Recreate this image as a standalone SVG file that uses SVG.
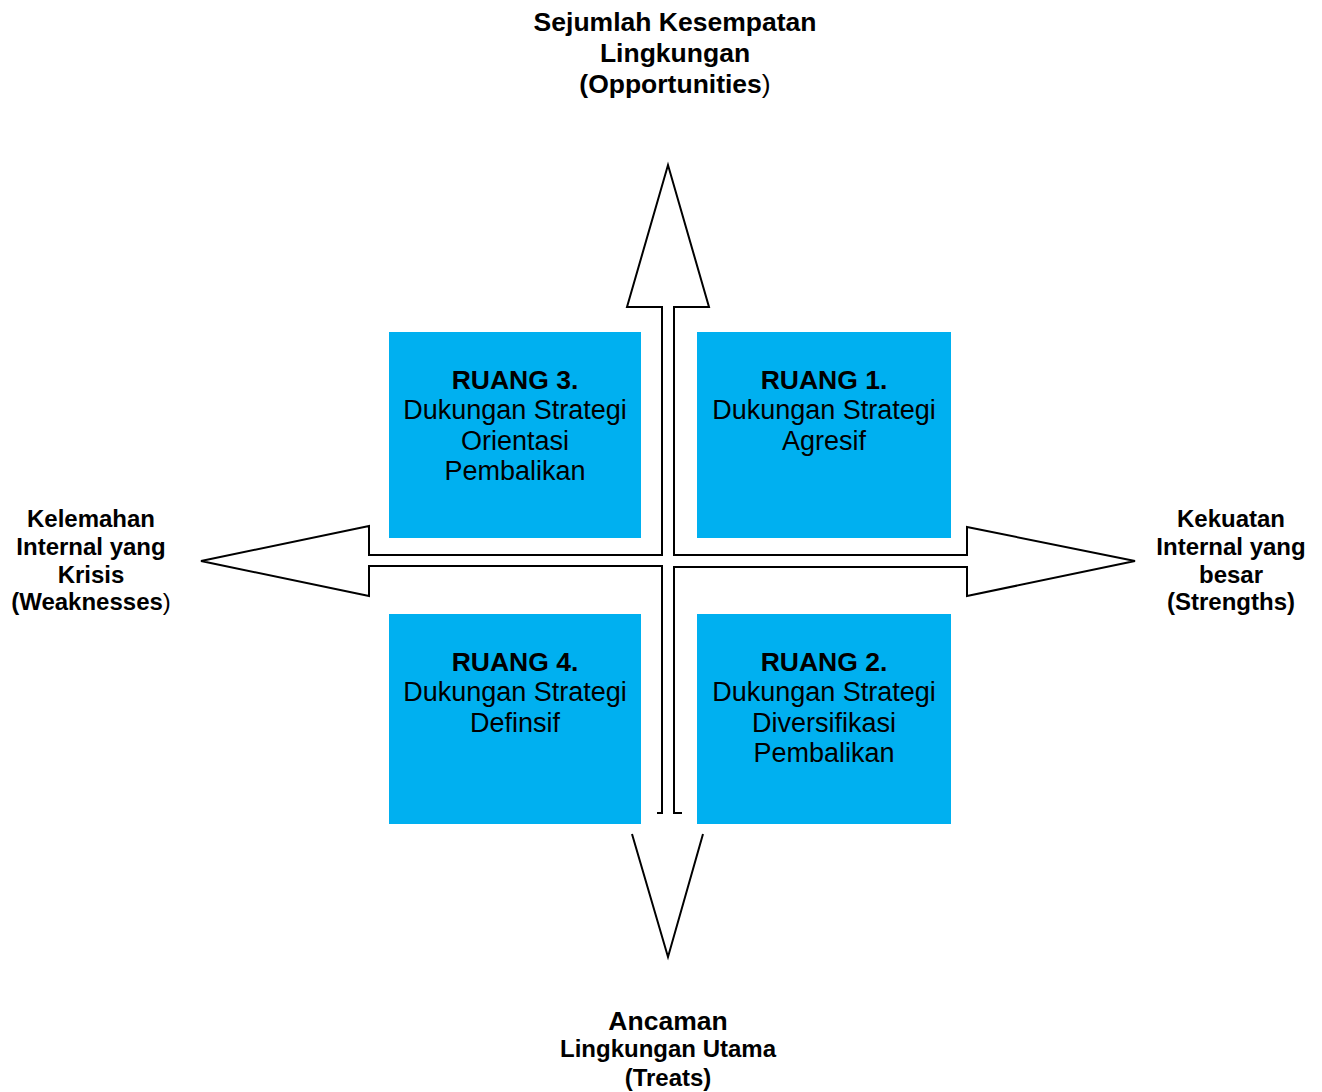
<svg xmlns="http://www.w3.org/2000/svg" width="1322" height="1092" viewBox="0 0 1322 1092">
<style>
.box{fill:#00B0F0;}
.t{font-family:"Liberation Sans",Arial,sans-serif;fill:#000;text-anchor:middle;}
.bt{font-size:27px;}
.b{font-weight:bold;font-size:26.5px;}
.lbl{font-weight:bold;font-size:24px;}
.lbl26{font-weight:bold;font-size:26.5px;}
.n{font-weight:normal;}
.ar{fill:none;stroke:#000;stroke-width:2;stroke-linejoin:miter;}
</style>
<rect width="1322" height="1092" fill="#fff"/>
<g id="connectors">
<path class="ar" d="M657,813 L662,813 L662,566 L369,566 L369,596 L201,561 L369,526 L369,555 L662,555 L662,307 L627,307 L668,165 L709,307 L674,307 L674,555 L967,555 L967,527 L1135,561 L967,596 L967,567 L674,567 L674,813 L682,813"/>
<path class="ar" d="M632,834 L668,957 L703,834"/>
</g>
<g id="ruang3">
<rect class="box" x="389" y="332" width="252" height="206"/>
<text class="t bt" x="515"><tspan class="b" x="515" y="389">RUANG 3.</tspan><tspan x="515" y="419">Dukungan Strategi</tspan><tspan x="515" y="450">Orientasi</tspan><tspan x="515" y="480">Pembalikan</tspan></text>
</g>
<g id="ruang1">
<rect class="box" x="697" y="332" width="254" height="206"/>
<text class="t bt" x="824"><tspan class="b" x="824" y="389">RUANG 1.</tspan><tspan x="824" y="419">Dukungan Strategi</tspan><tspan x="824" y="450">Agresif</tspan></text>
</g>
<g id="ruang4">
<rect class="box" x="389" y="614" width="252" height="210"/>
<text class="t bt" x="515"><tspan class="b" x="515" y="671">RUANG 4.</tspan><tspan x="515" y="701">Dukungan Strategi</tspan><tspan x="515" y="732">Definsif</tspan></text>
</g>
<g id="ruang2">
<rect class="box" x="697" y="614" width="254" height="210"/>
<text class="t bt" x="824"><tspan class="b" x="824" y="671">RUANG 2.</tspan><tspan x="824" y="701">Dukungan Strategi</tspan><tspan x="824" y="732">Diversifikasi</tspan><tspan x="824" y="762">Pembalikan</tspan></text>
</g>
<g id="opportunities">
<text class="t lbl26"><tspan x="675" y="31">Sejumlah Kesempatan</tspan><tspan x="675" y="62">Lingkungan</tspan><tspan x="675" y="93">(Opportunities<tspan class="n">)</tspan></tspan></text>
</g>
<g id="weaknesses">
<text class="t lbl"><tspan x="91" y="527">Kelemahan</tspan><tspan x="91" y="555">Internal yang</tspan><tspan x="91" y="583">Krisis</tspan><tspan x="91" y="610">(Weaknesses<tspan class="n">)</tspan></tspan></text>
</g>
<g id="strengths">
<text class="t lbl"><tspan x="1231" y="527">Kekuatan</tspan><tspan x="1231" y="555">Internal yang</tspan><tspan x="1231" y="583">besar</tspan><tspan x="1231" y="610">(Strengths)</tspan></text>
</g>
<g id="treats">
<text class="t lbl"><tspan class="lbl26" x="668" y="1030">Ancaman</tspan><tspan x="668" y="1057">Lingkungan Utama</tspan><tspan x="668" y="1086">(Treats)</tspan></text>
</g>
</svg>
